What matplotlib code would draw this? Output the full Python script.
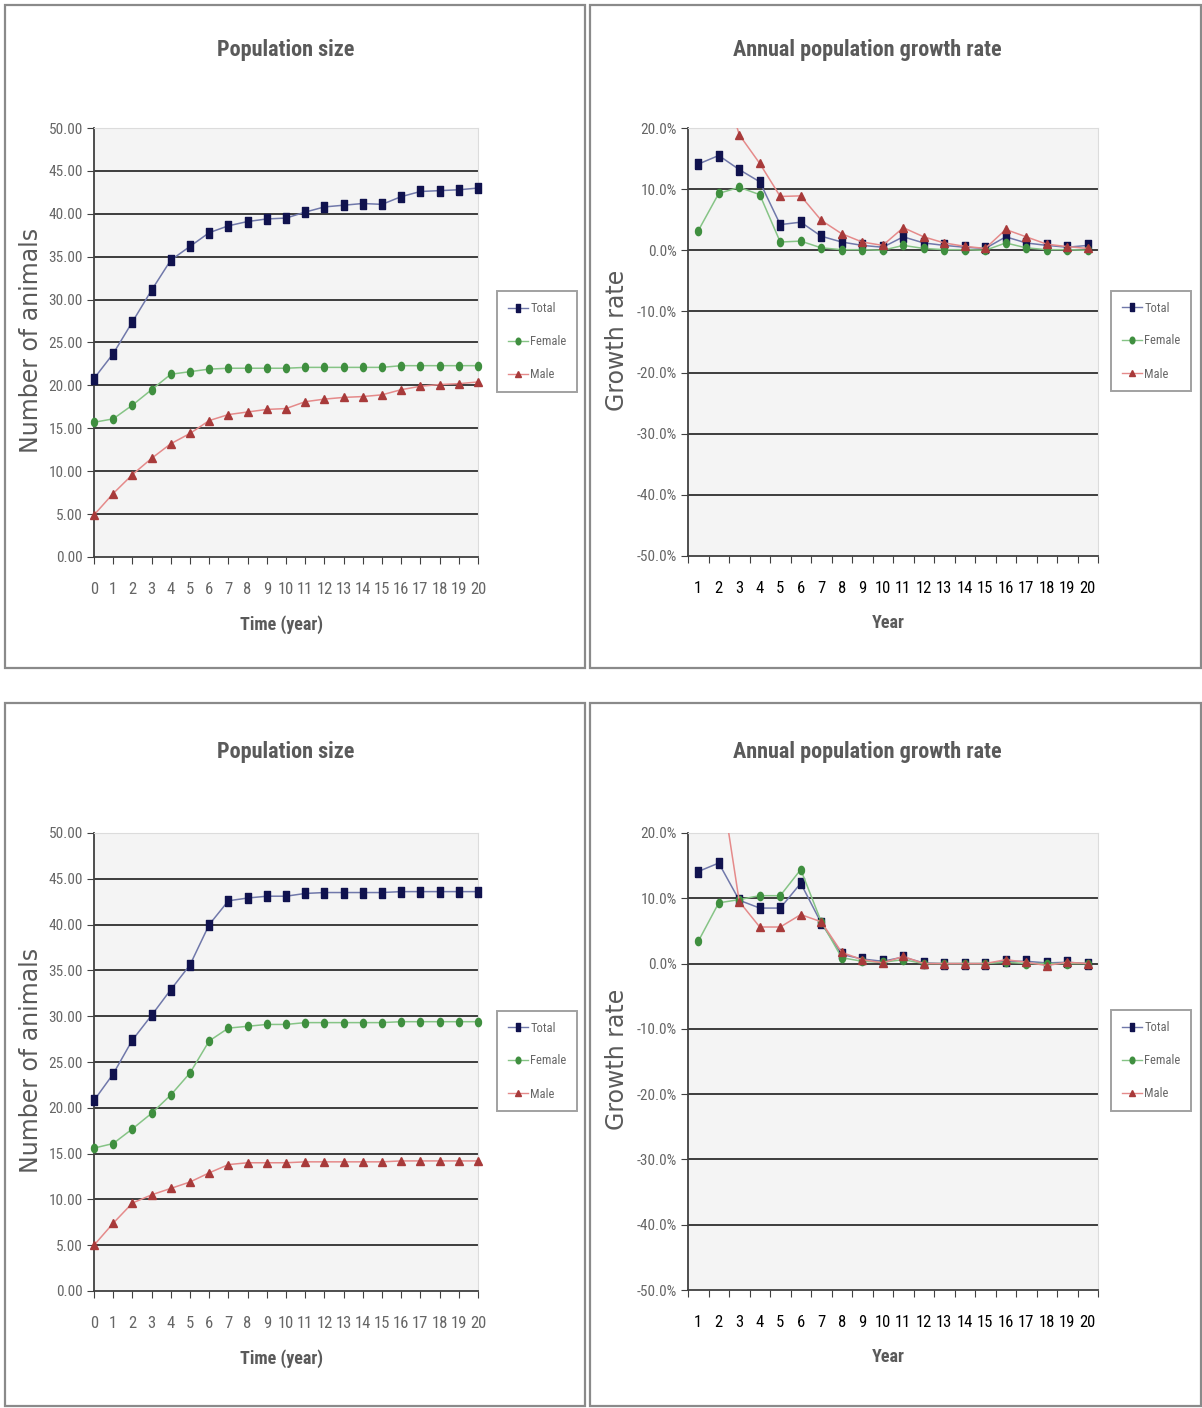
import numpy as np
import matplotlib
matplotlib.use("Agg")
import matplotlib.pyplot as plt
from matplotlib import font_manager
from matplotlib.patches import Rectangle
from matplotlib.lines import Line2D

# ---------------- data ----------------
pop_years = list(range(0, 21))
growth_years = list(range(1, 21))

pop1_total = [20.8, 23.7, 27.4, 31.1, 34.6, 36.2, 37.8, 38.6, 39.1, 39.4, 39.5,
              40.2, 40.8, 41.0, 41.2, 41.1, 42.0, 42.6, 42.7, 42.8, 43.0]
pop1_female = [15.7, 16.1, 17.7, 19.5, 21.3, 21.6, 21.9, 22.0, 22.0, 22.0, 22.0,
               22.1, 22.1, 22.1, 22.1, 22.1, 22.3, 22.3, 22.3, 22.3, 22.3]
pop1_male = [4.9, 7.4, 9.6, 11.5, 13.2, 14.4, 15.9, 16.6, 16.9, 17.2, 17.3,
             18.1, 18.4, 18.6, 18.7, 18.9, 19.5, 19.9, 20.1, 20.2, 20.4]

pop2_total = [20.8, 23.7, 27.4, 30.1, 32.9, 35.6, 40.0, 42.6, 42.9, 43.1, 43.1,
              43.4, 43.5, 43.5, 43.5, 43.5, 43.6, 43.6, 43.6, 43.6, 43.6]
pop2_female = [15.6, 16.1, 17.7, 19.4, 21.4, 23.8, 27.3, 28.7, 28.9, 29.1, 29.1,
               29.3, 29.3, 29.3, 29.3, 29.3, 29.4, 29.4, 29.4, 29.4, 29.4]
pop2_male = [5.0, 7.4, 9.6, 10.5, 11.2, 11.9, 12.9, 13.8, 14.0, 14.0, 14.0,
             14.1, 14.1, 14.1, 14.1, 14.1, 14.2, 14.2, 14.2, 14.2, 14.2]

gr1_total = [14.1, 15.5, 13.2, 11.2, 4.2, 4.6, 2.3, 1.35, 0.8, 0.5,
             2.2, 1.2, 0.8, 0.5, 0.3, 2.2, 1.2, 0.8, 0.5, 0.8]
gr1_female = [3.2, 9.3, 10.3, 9.1, 1.35, 1.5, 0.4, 0.1, 0.1, 0.0,
              0.8, 0.3, 0.1, 0.1, 0.0, 1.2, 0.4, 0.1, 0.1, 0.0]
gr1_male = [51.0, 30.0, 18.9, 14.2, 8.8, 8.9, 4.9, 2.7, 1.35, 0.8,
            3.7, 2.2, 1.2, 0.65, 0.3, 3.4, 2.2, 1.0, 0.6, 0.3]

gr2_total = [14.1, 15.4, 9.7, 8.5, 8.5, 12.3, 6.2, 1.4, 0.7, 0.35,
             1.0, 0.1, 0.0, 0.0, 0.0, 0.35, 0.35, 0.1, 0.2, 0.0]
gr2_female = [3.4, 9.3, 9.8, 10.4, 10.4, 14.4, 6.4, 0.9, 0.35, 0.2,
              0.6, 0.0, 0.0, 0.0, 0.0, 0.2, 0.0, 0.0, 0.0, 0.0]
gr2_male = [48.0, 30.0, 9.5, 5.6, 5.6, 7.5, 6.4, 1.7, 0.6, 0.1,
            1.1, 0.0, 0.0, 0.0, 0.0, 0.6, 0.2, -0.3, 0.2, 0.0]

series_labels = ["Total", "Female", "Male"]
pop_ticks = list(range(0, 51, 5))
growth_ticks = list(range(-50, 21, 10))

title_pop = "Population size"
title_growth = "Annual population growth rate"
xlabel_pop = "Time (year)"
xlabel_growth = "Year"
ylabel_pop = "Number of animals"
ylabel_growth = "Growth rate"

# ---------------- style ----------------
names = {f.name for f in font_manager.fontManager.ttflist}
NARROW = "Liberation Sans"
for cand in ["Liberation Sans Narrow", "Arimo Narrow", "Arial Narrow",
             "Roboto Condensed", "PT Sans Narrow", "Archivo Narrow",
             "Barlow Semi Condensed"]:
    if cand in names:
        NARROW = cand
        break
WIDE = "DejaVu Sans"

W, H = 1202, 1408
fig = plt.figure(figsize=(W / 100, H / 100), dpi=100)
fig.patch.set_facecolor("white")

TXT = "#5a5a5a"
TICK_TXT = "#666666"
GRID = "#3c3c3c"
BG = "#f4f4f4"
mk_colors = ["#10124e", "#3f8f3f", "#a83a3a"]
ln_colors = ["#7078aa", "#86c486", "#e58a8a"]

rect_marker = [(-0.25, -0.5), (0.25, -0.5), (0.25, 0.5), (-0.25, 0.5), (-0.25, -0.5)]
t = np.linspace(0, 2 * np.pi, 25)
ell_marker = list(zip(0.36 * np.cos(t), 0.5 * np.sin(t)))
markers = [rect_marker, ell_marker, "^"]
msizes = [7.5, 6.0, 5.5]


def fx(x):
    return x / W


def fy(y):
    return 1 - y / H


def panel(x0, y0, x1, y1):
    fig.add_artist(Rectangle((fx(x0), fy(y1)), (x1 - x0) / W, (y1 - y0) / H,
                             transform=fig.transFigure, fill=False,
                             ec="#8a8a8a", lw=1.6))


def add_axes(l, t_, r, b):
    return fig.add_axes([fx(l), fy(b), (r - l) / W, (b - t_) / H])


def style_axes(ax):
    ax.set_facecolor(BG)
    for s in ("top", "right"):
        ax.spines[s].set_color("#dcdcdc")
        ax.spines[s].set_linewidth(0.8)
    for s in ("left", "bottom"):
        ax.spines[s].set_color("#404040")
        ax.spines[s].set_linewidth(1.3)
    ax.tick_params(colors="#404040", labelcolor=TICK_TXT, direction="out")
    for lab in ax.get_xticklabels(which="both") + ax.get_yticklabels():
        lab.set_fontfamily(NARROW)


def legend(ax, cx, cy):
    handles = [Line2D([], [], color=ln_colors[i], lw=1, marker=markers[i],
                      ms=msizes[i] * 0.8, mfc=mk_colors[i], mec=mk_colors[i])
               for i in range(3)]
    lg = ax.legend(handles, series_labels, loc="center",
                   bbox_to_anchor=(fx(cx), fy(cy)), bbox_transform=fig.transFigure,
                   prop={"family": NARROW, "size": 9}, labelcolor=TICK_TXT,
                   frameon=True, fancybox=False, edgecolor="#8a8a8a",
                   handlelength=1.6, handletextpad=0.2, labelspacing=1.6,
                   borderpad=0.85, borderaxespad=0)
    lg.get_frame().set_linewidth(1.4)


def pop_chart(top, series, tops):
    ax = add_axes(94, tops[0], 478, tops[1])
    for v in pop_ticks[1:-1]:
        ax.axhline(v, color=GRID, lw=1.4, zorder=1)
    for i, data in enumerate(series):
        ax.plot(pop_years, data, color=ln_colors[i], lw=1.1, marker=markers[i],
                ms=msizes[i], mfc=mk_colors[i], mec=mk_colors[i], zorder=3,
                clip_on=False)
    ax.set_xlim(0, 20)
    ax.set_ylim(0, 50)
    ax.set_yticks(pop_ticks)
    ax.set_yticklabels([f"{v:.2f}" for v in pop_ticks], fontsize=11)
    ax.set_xticks(pop_years)
    ax.set_xticklabels([str(v) for v in pop_years], fontsize=12)
    ax.tick_params(axis="x", length=5, pad=13)
    ax.tick_params(axis="y", length=5, pad=3)
    style_axes(ax)
    fig.text(fx(286), fy(top + 45), title_pop, ha="center", va="center",
             family=NARROW, weight="bold", fontsize=16, color=TXT)
    fig.text(fx(281), fy(tops[1] + 68), xlabel_pop, ha="center", va="center",
             family=NARROW, weight="bold", fontsize=13, color=TXT)
    fig.text(fx(31), fy((tops[0] + tops[1]) / 2 - 2), ylabel_pop, ha="center",
             va="center", rotation=90, family=WIDE, fontsize=17, color=TXT)
    legend(ax, 537, (tops[0] + tops[1]) / 2 - 1)
    return ax


def growth_chart(top, series, tops):
    ax = add_axes(688, tops[0], 1098, tops[1])
    for v in growth_ticks[1:-1]:
        ax.axhline(v, color=GRID, lw=1.4, zorder=1)
    for i, data in enumerate(series):
        ax.plot(growth_years, data, color=ln_colors[i], lw=1.1, marker=markers[i],
                ms=msizes[i], mfc=mk_colors[i], mec=mk_colors[i], zorder=3)
    ax.set_xlim(0.5, 20.5)
    ax.set_ylim(-50, 20)
    ax.set_yticks(growth_ticks)
    ax.set_yticklabels([f"{v:.1f}%" for v in growth_ticks], fontsize=11)
    ax.set_xticks(np.arange(0.5, 21, 1.0))
    ax.set_xticklabels([])
    ax.set_xticks(growth_years, minor=True)
    ax.set_xticklabels([str(v) for v in growth_years], minor=True, fontsize=12)
    ax.tick_params(axis="x", which="major", length=5)
    ax.tick_params(axis="x", which="minor", length=0, pad=18)
    ax.tick_params(axis="y", length=5, pad=3)
    style_axes(ax)
    fig.text(fx(867), fy(top + 45), title_growth, ha="center", va="center",
             family=NARROW, weight="bold", fontsize=16, color=TXT)
    fig.text(fx(888), fy(tops[1] + 67), xlabel_growth, ha="center", va="center",
             family=NARROW, weight="bold", fontsize=13, color=TXT)
    fig.text(fx(617), fy((tops[0] + tops[1]) / 2 - 2), ylabel_growth, ha="center",
             va="center", rotation=90, family=WIDE, fontsize=17, color=TXT)
    legend(ax, 1151, (tops[0] + tops[1]) / 2 - 1)
    return ax


# panels
panel(5, 5, 585, 668)
panel(590, 5, 1201, 668)
panel(5, 703, 585, 1406)
panel(590, 703, 1201, 1406)

pop_chart(5, [pop1_total, pop1_female, pop1_male], (128, 557))
growth_chart(5, [gr1_total, gr1_female, gr1_male], (128, 556))
pop_chart(707, [pop2_total, pop2_female, pop2_male], (833, 1291))
growth_chart(707, [gr2_total, gr2_female, gr2_male], (833, 1290))

fig.savefig("out.png", dpi=100, facecolor="white")
